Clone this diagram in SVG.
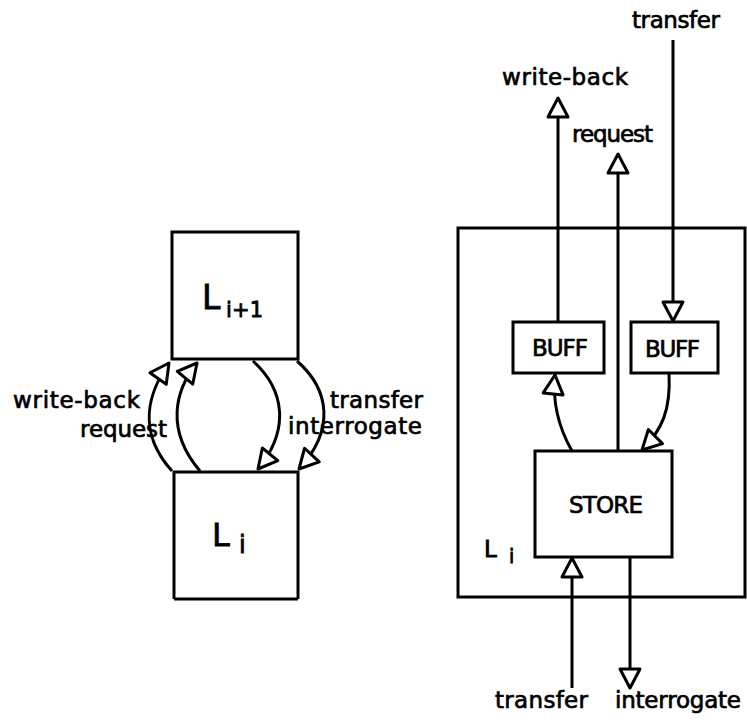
<svg xmlns="http://www.w3.org/2000/svg" width="747" height="725" viewBox="0 0 747 725">
  <defs>
    <style>
      .box { fill: none; stroke: #000; stroke-width: 3; }
      .arr { fill: none; stroke: #000; stroke-width: 3; marker-end: url(#head); }
      .lbl { font-family: "DejaVu Sans", "Liberation Sans", sans-serif; font-size: 23px; fill: #000; stroke: #000; stroke-width: 0.7; }
      .big { font-family: "DejaVu Sans", "Liberation Sans", sans-serif; fill: #000; stroke: #000; stroke-width: 0.8; }
    </style>
    <!-- open (hollow) triangular arrowhead, tip at the path end -->
    <marker id="head" viewBox="-24 -14 28 28" refX="0" refY="0" markerWidth="28" markerHeight="28" orient="auto" markerUnits="userSpaceOnUse">
      <path d="M0,0 L-19,-10 L-19,10 Z" fill="#fff" stroke="#000" stroke-width="3" stroke-linejoin="round"/>
    </marker>
  </defs>

  <rect width="747" height="725" fill="#fff"/>

  <!-- ===== Left: two adjacent levels ===== -->
  <g id="level-upper">
    <rect class="box" x="172" y="232" width="126" height="127"/>
    <text class="big" x="202" y="309" font-size="33">L</text>
    <text class="big" x="226" y="317" font-size="21" textLength="37" lengthAdjust="spacing">i+1</text>
  </g>
  <g id="level-lower">
    <polyline class="box" points="174,599 174,472 298,472 298,599"/>
    <line class="box" x1="174" y1="599" x2="298" y2="599"/>
    <text class="big" x="212" y="546" font-size="32">L</text>
    <text class="big" x="239" y="553" font-size="24">i</text>
  </g>

  <g id="left-connectors">
    <path class="arr" d="M172,471 C135,430 150,390 169,363"/>
    <path class="arr" d="M200,471 C165,430 175,390 197,363"/>
    <path class="arr" d="M253,361 C285,390 290,430 258,469"/>
    <path class="arr" d="M297,361 C330,390 335,430 299,469"/>
  </g>
  <g id="left-labels">
    <text class="lbl" x="13" y="408" textLength="127" lengthAdjust="spacing">write-back</text>
    <text class="lbl" x="80" y="437" textLength="87" lengthAdjust="spacing">request</text>
    <text class="lbl" x="330" y="408" textLength="93" lengthAdjust="spacing">transfer</text>
    <text class="lbl" x="288" y="434" textLength="134" lengthAdjust="spacing">interrogate</text>
  </g>

  <!-- ===== Right: internal structure of one level ===== -->
  <g id="level-frame">
    <rect class="box" x="458" y="228" width="287" height="369"/>
    <text class="big" x="484" y="557" font-size="23">L</text>
    <text class="big" x="509" y="563" font-size="19">i</text>
  </g>
  <g id="buff-out">
    <rect class="box" x="513" y="322" width="91" height="51"/>
    <text class="lbl" x="532" y="356" textLength="56" lengthAdjust="spacing">BUFF</text>
  </g>
  <g id="buff-in">
    <rect class="box" x="631" y="322" width="87" height="51"/>
    <text class="lbl" x="645" y="357" textLength="55" lengthAdjust="spacing">BUFF</text>
  </g>
  <g id="store">
    <rect class="box" x="535" y="451" width="137" height="106"/>
    <text class="lbl" x="569" y="513" textLength="74" lengthAdjust="spacing">STORE</text>
  </g>

  <g id="right-connectors">
    <!-- write-back leaves through the outgoing buffer -->
    <path class="arr" d="M558,322 L558,98"/>
    <!-- request goes straight out from the store -->
    <path class="arr" d="M618,451 L618,154"/>
    <!-- transfer comes in to the incoming buffer -->
    <path class="arr" d="M673,40 L673,321"/>
    <!-- store to outgoing buffer -->
    <path class="arr" d="M572,451 C560,430 552,405 555,375"/>
    <!-- incoming buffer to store -->
    <path class="arr" d="M669,373 C671,410 662,430 642,450"/>
    <!-- lower-level ports -->
    <path class="arr" d="M572,688 L572,558"/>
    <path class="arr" d="M630,557 L630,688"/>
  </g>
  <g id="right-labels">
    <text class="lbl" x="632" y="28" textLength="88" lengthAdjust="spacing">transfer</text>
    <text class="lbl" x="502" y="85" textLength="126" lengthAdjust="spacing">write-back</text>
    <text class="lbl" x="572" y="142" textLength="81" lengthAdjust="spacing">request</text>
    <text class="lbl" x="495" y="708" textLength="93" lengthAdjust="spacing">transfer</text>
    <text class="lbl" x="615" y="708" textLength="126" lengthAdjust="spacing">interrogate</text>
  </g>
</svg>
